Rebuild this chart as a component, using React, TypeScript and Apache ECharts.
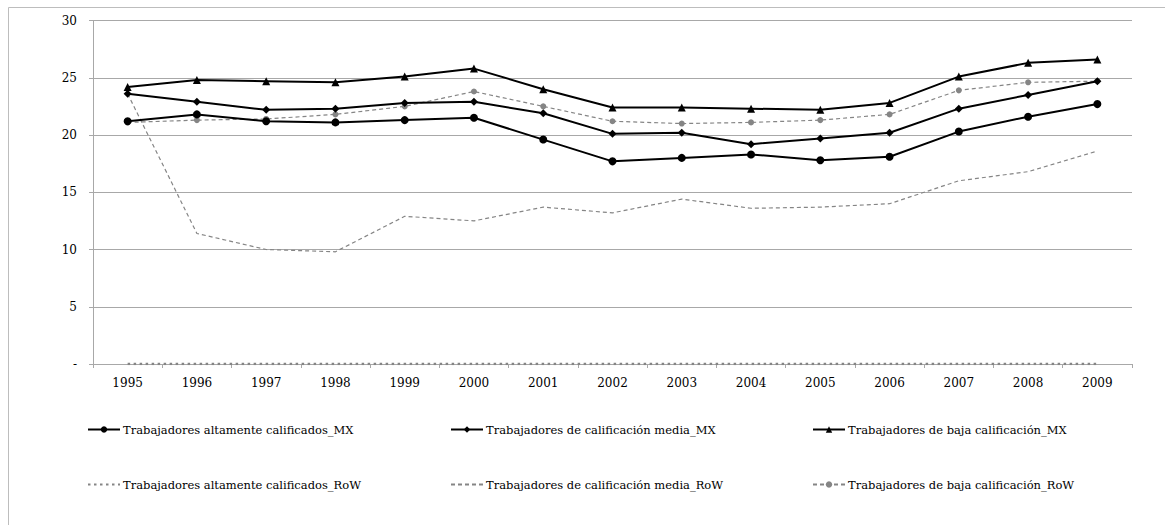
import React, { useEffect, useRef } from "react";
import * as echarts from "echarts";

const years = ["1995", "1996", "1997", "1998", "1999", "2000", "2001", "2002", "2003", "2004", "2005", "2006", "2007", "2008", "2009"];

const altaMX = [21.2, 21.8, 21.2, 21.1, 21.3, 21.5, 19.6, 17.7, 18.0, 18.3, 17.8, 18.1, 20.3, 21.6, 22.7];
const mediaMX = [23.6, 22.9, 22.2, 22.3, 22.8, 22.9, 21.9, 20.1, 20.2, 19.2, 19.7, 20.2, 22.3, 23.5, 24.7];
const bajaMX = [24.2, 24.8, 24.7, 24.6, 25.1, 25.8, 24.0, 22.4, 22.4, 22.3, 22.2, 22.8, 25.1, 26.3, 26.6];
const altaRoW = [0, 0, 0, 0, 0, 0, 0, 0, 0, 0, 0, 0, 0, 0, 0];
const mediaRoW = [23.6, 11.4, 10.0, 9.8, 12.9, 12.5, 13.7, 13.2, 14.4, 13.6, 13.7, 14.0, 16.0, 16.8, 18.6];
const bajaRoW = [21.1, 21.3, 21.4, 21.8, 22.5, 23.8, 22.5, 21.2, 21.0, 21.1, 21.3, 21.8, 23.9, 24.6, 24.7];

const names = [
  "Trabajadores altamente calificados_MX",
  "Trabajadores de calificación media_MX",
  "Trabajadores de baja calificación_MX",
  "Trabajadores altamente calificados_RoW",
  "Trabajadores de calificación media_RoW",
  "Trabajadores de baja calificación_RoW",
];

const FONT = "DejaVu Serif";
const AXIS_FONT_SIZE = 12;
const LEGEND_FONT_SIZE = 11.5;
const GRID_GRAY = "#a8a8a8";
const ROW_GRAY = "#858585";

export default function App() {
  const ref = useRef<HTMLDivElement>(null);

  useEffect(() => {
    if (!ref.current) return;
    const chart = echarts.init(ref.current, undefined, { renderer: "svg" });

    const legendPos = [
      { left: 87, top: 423.5 },
      { left: 450, top: 423.5 },
      { left: 812, top: 423.5 },
      { left: 87, top: 478.5 },
      { left: 450, top: 478.5 },
      { left: 812, top: 478.5 },
    ];

    // series without markers get a hidden legend symbol
    const hideSymbol = [false, false, false, true, true, false];

    const blackLine = (name: string, data: number[], symbol: string, size: number) => ({
      name,
      type: "line",
      data,
      symbol,
      symbolSize: size,
      showSymbol: true,
      lineStyle: { color: "#000", width: 2 },
      itemStyle: { color: "#000" },
      z: 3,
    });

    chart.setOption({
      animation: false,
      backgroundColor: "#fff",
      textStyle: { fontFamily: FONT },
      graphic: [
        {
          type: "rect",
          shape: { x: 8.5, y: 7.5, width: 2000, height: 2000 },
          style: { fill: "none", stroke: "#bdbdbd", lineWidth: 1 },
          silent: true,
        },
      ],
      grid: { left: 93, top: 20.5, right: 33, bottom: 161, containLabel: false },
      legend: names.map((n, i) => ({
        data: [hideSymbol[i] ? { name: n, itemStyle: { opacity: 0 } } : { name: n }],
        left: legendPos[i].left,
        top: legendPos[i].top,
        padding: 0,
        itemWidth: 32,
        itemHeight: 8,
        itemGap: 0,
        textStyle: { fontFamily: FONT, fontSize: LEGEND_FONT_SIZE, color: "#000", padding: [0, 0, 0, -2] },
      })),
      xAxis: {
        type: "category",
        data: years,
        boundaryGap: true,
        axisLine: { lineStyle: { color: GRID_GRAY, width: 1 } },
        axisTick: { show: true, length: 4, lineStyle: { color: GRID_GRAY } },
        axisLabel: { fontFamily: FONT, fontSize: AXIS_FONT_SIZE, color: "#000", margin: 13 },
        splitLine: { show: false },
      },
      yAxis: {
        type: "value",
        min: 0,
        max: 30,
        interval: 5,
        axisLine: { show: true, lineStyle: { color: GRID_GRAY, width: 1 } },
        axisTick: { show: true, length: 4, lineStyle: { color: GRID_GRAY } },
        axisLabel: {
          fontFamily: FONT,
          fontSize: AXIS_FONT_SIZE,
          color: "#000",
          margin: 16,
          formatter: (v: number) => (v === 0 ? "-" : String(v)),
        },
        splitLine: { show: true, lineStyle: { color: GRID_GRAY, width: 1 } },
      },
      series: [
        blackLine(names[0], altaMX, "circle", 8),
        blackLine(names[1], mediaMX, "diamond", 8),
        blackLine(names[2], bajaMX, "triangle", 8),
        {
          name: names[3],
          type: "line",
          data: altaRoW,
          symbol: "none",
          lineStyle: { color: ROW_GRAY, width: 2.5, type: [2.5, 3.5] },
          itemStyle: { color: ROW_GRAY },
          z: 2,
        },
        {
          name: names[4],
          type: "line",
          data: mediaRoW,
          symbol: "none",
          lineStyle: { color: ROW_GRAY, width: 1.2, type: [4, 3] },
          itemStyle: { color: ROW_GRAY },
          z: 2,
        },
        {
          name: names[5],
          type: "line",
          data: bajaRoW,
          symbol: "circle",
          symbolSize: 6,
          showSymbol: true,
          lineStyle: { color: ROW_GRAY, width: 1.2, type: [4, 3] },
          itemStyle: { color: ROW_GRAY },
          z: 2,
        },
      ],
    });

    return () => chart.dispose();
  }, []);

  return (
    <div
      ref={ref}
      style={{ position: "absolute", left: 0, top: 0, width: 1165, height: 525, background: "#fff" }}
    />
  );
}
